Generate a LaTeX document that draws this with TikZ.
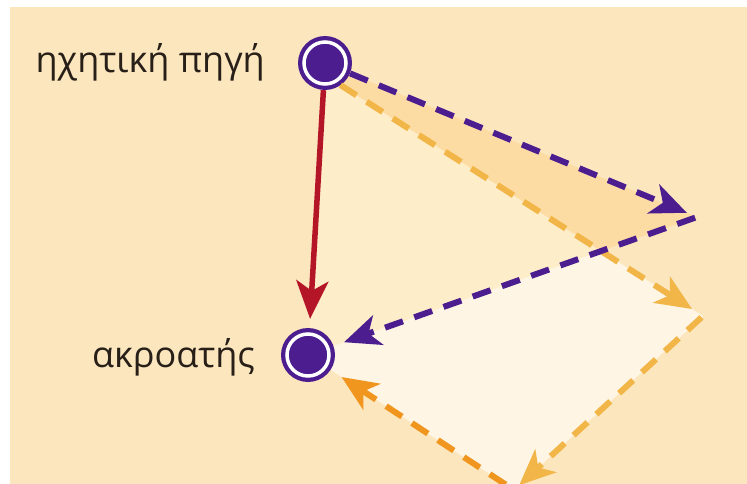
\documentclass[tikz,border=0pt]{standalone}
\usepackage{fontspec}
\usepackage{xcolor}
\usepackage{tikz}
\usetikzlibrary{arrows.meta, positioning, calc}
\newfontfamily\labelfont{Open Sans}

\definecolor{bgbeige}{RGB}{252,230,190}
\definecolor{paleA}{RGB}{253,237,200}
\definecolor{bandB}{RGB}{253,220,163}
\definecolor{paleC}{RGB}{254,245,228}
\definecolor{soundpurple}{RGB}{75,29,143}
\definecolor{pathred}{RGB}{180,22,40}
\definecolor{lightorange}{RGB}{242,182,72}
\definecolor{darkorange}{RGB}{240,150,30}
\definecolor{textdark}{RGB}{40,32,24}

\tikzset{
  ringdot/.style={circle, fill=soundpurple, minimum size=54pt, inner sep=0pt,
    path picture={\draw[white, line width=3.5pt] (path picture bounding box.center) circle (21pt);}},
  wavelabel/.style={font=\labelfont\fontsize{36}{42}\selectfont, text=textdark, inner sep=0pt},
  raypath/.style={line width=6pt, dash pattern=on 19pt off 12pt,
    -{Stealth[length=36pt, width=31pt, inset=10pt]}},
}

\begin{document}
\begin{tikzpicture}[x=1pt, y=-1pt]
  \useasboundingbox (0,0) rectangle (747,484);
  \fill[white] (0,0) rectangle (747,484);
  \fill[bgbeige] (10,7) rectangle (747,484);

  % reflection points
  \coordinate (P1) at (697,217);
  \coordinate (P2) at (703,316);
  \coordinate (P3) at (514,490);
  \coordinate (X) at (601,251);
  \coordinate (Sc) at (325,63);
  \coordinate (Lc) at (308,355);
  \coordinate (O1) at (340.5,85.1);

  % shaded areas
  \fill[paleA] (Sc) -- (P1) -- (Lc) -- cycle;
  \fill[bandB] (Sc) -- (P1) -- (X) -- (O1) -- cycle;
  \fill[paleC] (Lc) -- (X) -- (P2) -- (P3) -- cycle;

  \node[ringdot] (S) at (Sc) {};
  \node[ringdot] (L) at (Lc) {};

  % rays
  \draw[raypath, lightorange, shorten >=13pt] (O1) -- (P2);
  \draw[raypath, lightorange, shorten <=2pt, shorten >=7pt] (P2) -- (P3);
  \draw[raypath, darkorange, shorten <=10pt, shorten >=13pt] (P3) -- (L);
  \draw[raypath, soundpurple, shorten >=11pt] (S) -- (P1);
  \draw[raypath, soundpurple, shorten <=2pt, shorten >=11pt] (P1) -- (L);
  \draw[pathred, line width=5.5pt, shorten >=9pt,
    -{Stealth[length=38pt, width=32pt, inset=10pt]}] (S) -- (L);

  % labels
  \node[wavelabel, anchor=base east] (srclabel) at (265,73) {ηχητική πηγή};
  \node[wavelabel, anchor=base east] (lstlabel) at (255,367) {ακροατής};
\end{tikzpicture}
\end{document}
